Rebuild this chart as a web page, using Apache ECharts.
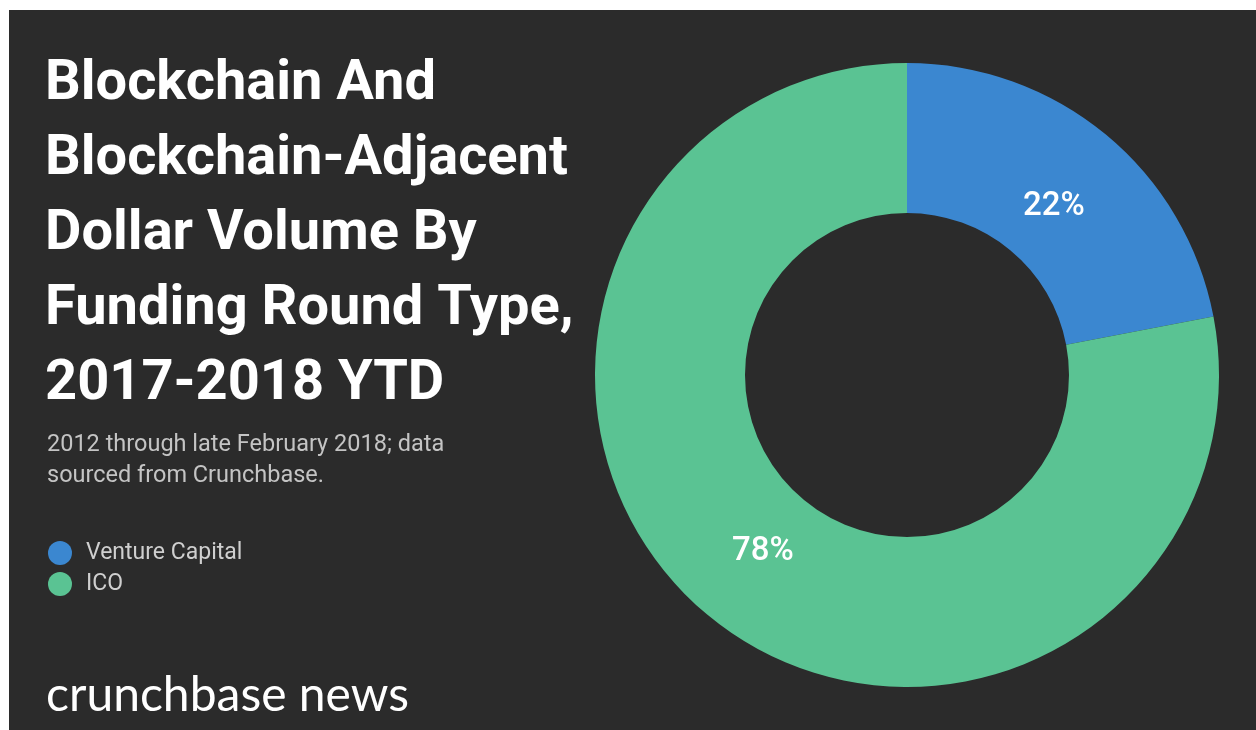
<!DOCTYPE html>
<html>
<head>
<meta charset="utf-8">
<script src="https://cdn.jsdelivr.net/npm/echarts@6/dist/echarts.min.js"></script>
<style>
  html, body { margin: 0; padding: 0; background: #ffffff; }
  #chart {
    position: absolute;
    left: 9px;
    top: 10px;
    width: 1247px;
    height: 720px;
    background: #2b2b2b;
  }
</style>
</head>
<body>
<div id="chart"></div>
<script>
// funding round types and their share of dollar volume (%)
const roundTypes = ['Venture Capital', 'ICO']
const shares = [22, 78]
const sliceColors = ['#3b87d0', '#5ac393']

const titleLines = [
  'Blockchain And',
  'Blockchain-Adjacent',
  'Dollar Volume By',
  'Funding Round Type,',
  '2017-2018 YTD'
]
const noteLines = [
  '2012 through late February 2018; data',
  'sourced from Crunchbase.'
]

const chart = echarts.init(document.getElementById('chart'))

// in-ring labels sit a bit closer to the hole than the ring middle
const labelFont = { color: '#ffffff', fontFamily: 'Roboto', fontWeight: 500, fontSize: 33 }

chart.setOption({
  backgroundColor: '#2b2b2b',
  color: sliceColors,
  title: [
    {
      text: titleLines.join('\n'),
      left: 31,
      top: 32,
      textStyle: {
        color: '#ffffff',
        fontFamily: 'Roboto',
        fontWeight: 'bold',
        fontSize: 56,
        lineHeight: 75
      }
    },
    {
      text: noteLines.join('\n'),
      left: 33,
      top: 415,
      textStyle: {
        color: '#c4c4c4',
        fontFamily: 'Roboto',
        fontWeight: 'normal',
        fontSize: 23.5,
        lineHeight: 31
      }
    }
  ],
  legend: {
    orient: 'vertical',
    left: 34,
    top: 526,
    icon: 'circle',
    itemWidth: 24,
    itemHeight: 24,
    itemGap: 7,
    data: roundTypes,
    textStyle: {
      color: '#cfcfcf',
      fontFamily: 'Roboto',
      fontSize: 23,
      padding: [0, 0, 0, 9]
    },
    selectedMode: false
  },
  graphic: [
    {
      type: 'text',
      left: 37,
      top: 662,
      style: {
        text: 'crunchbase news',
        fill: '#ffffff',
        font: 'normal 48px Lato'
      }
    }
  ],
  series: [
    {
      type: 'pie',
      center: [898, 365],
      radius: [162, 312],
      startAngle: 90,
      clockwise: true,
      silent: true,
      label: {
        show: true,
        position: 'inside',
        formatter: p => `{p${p.dataIndex}|${p.value}%}`,
        rich: {
          p0: Object.assign({ padding: [34, 12, 0, 0] }, labelFont),
          p1: Object.assign({ padding: [0, 0, 16, 18] }, labelFont)
        }
      },
      labelLine: { show: false },
      itemStyle: { borderWidth: 0 },
      data: roundTypes.map((name, i) => ({ name: name, value: shares[i] }))
    }
  ]
})
</script>
</body>
</html>
